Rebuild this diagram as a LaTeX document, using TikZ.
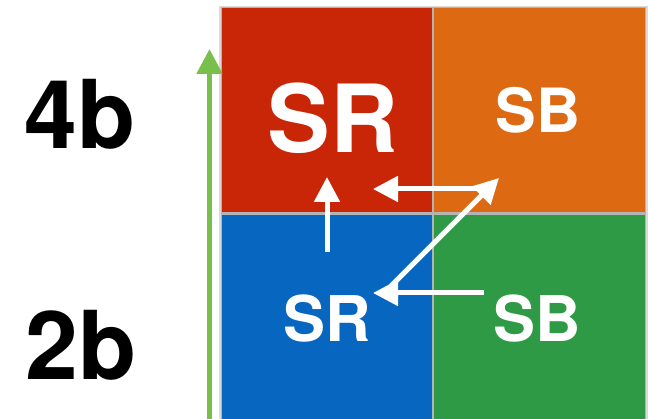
\documentclass[tikz,border=0pt]{standalone}
\usepackage{fontspec}
\setmainfont{TeX Gyre Heros}
\usetikzlibrary{arrows.meta}
\definecolor{tileRed}{HTML}{C92608}
\definecolor{tileOrange}{HTML}{DD6A12}
\definecolor{tileBlue}{HTML}{0766C0}
\definecolor{tileGreen}{HTML}{2E9A45}
\definecolor{axisGreen}{HTML}{78C04B}
\definecolor{seam}{HTML}{B4B4B4}
\tikzset{
  biglabel/.style={font=\bfseries\fontsize{95}{95}\selectfont, text=black, inner sep=0pt},
  celltext/.style={font=\bfseries\fontsize{#1}{#1}\selectfont, text=white, inner sep=0pt},
  flow/.style={white, line width=5pt, -{Triangle[length=25pt, width=25pt]}},
}
\begin{document}
\begin{tikzpicture}[x=1pt, y=1pt]
  \useasboundingbox (0,0) rectangle (648,419);
  \fill[white] (0,0) rectangle (648,419);

  % soft edge and seams behind the four tiles
  \fill[seam!50] (219,0) rectangle (648,413);
  \fill[seam] (221,0) rectangle (646,412);

  % tiles
  \fill[tileRed]    (222,207) rectangle (432,411);
  \fill[tileOrange] (434,207) rectangle (645,411);
  \fill[tileBlue]   (222,0)   rectangle (432,204);
  \fill[tileGreen]  (434,0)   rectangle (645,204);

  % level labels and axis
  \node[biglabel] (l4) at (80,305) {4b};
  \node[biglabel] (l2) at (81,74) {2b};
  \coordinate (axB) at (209.5,0);
  \coordinate (axT) at (209.5,370);
  \draw[axisGreen, line width=5pt, -{Triangle[length=25pt, width=25pt]}] (axB) -- (axT);

  % cell labels
  \node[celltext=94] (sr4) at (333,300.5) {SR};
  \node[celltext=61] (sb4) at (538,308.5) {SB};
  \node[celltext=63] (sr2) at (327,100) {SR};
  \node[celltext=63] (sb2) at (537,100) {SB};

  % arrow end points
  \coordinate (upS) at (327,167);
  \coordinate (upE) at (327,242);
  \coordinate (topS) at (478,230);
  \coordinate (topE) at (373,230);
  \coordinate (diS) at (391,133);
  \coordinate (diE) at (499,241);
  \coordinate (botS) at (484,126);
  \coordinate (botE) at (373,126);

  \draw[flow] (upS) -- (upE);
  \draw[flow] (topS) -- (topE);
  \draw[flow] (diS) -- (diE);
  \draw[flow] (botS) -- (botE);
\end{tikzpicture}
\end{document}
